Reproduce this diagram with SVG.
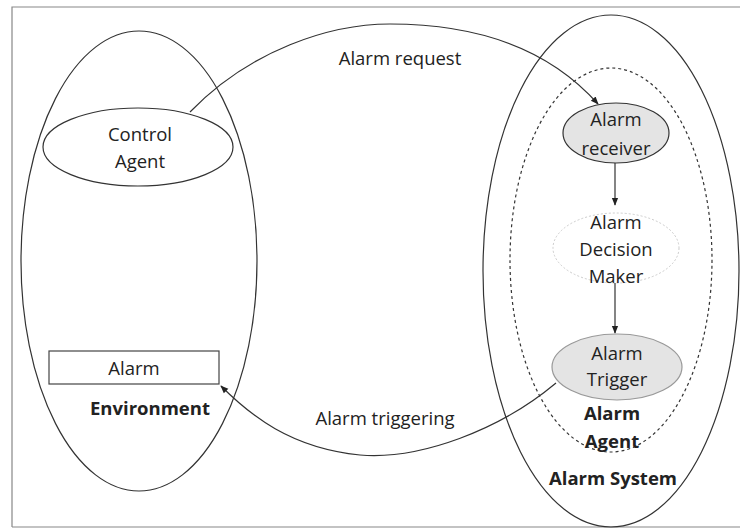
<svg xmlns="http://www.w3.org/2000/svg" width="740" height="531" viewBox="0 0 740 531">
<style>
.t{font-family:"Open Sans","Noto Sans","Liberation Sans",sans-serif;font-size:18.5px;fill:#222;text-anchor:middle;dominant-baseline:central}
.b{font-weight:bold}
.ln{fill:none;stroke:#333;stroke-width:1.2}
</style>
<defs>
<marker id="ah" viewBox="0 0 10 10" refX="9" refY="5" markerWidth="8" markerHeight="8" orient="auto-start-reverse" markerUnits="userSpaceOnUse">
<path d="M0,1 L10,5 L0,9 z" fill="#222"/>
</marker>
</defs>
<rect x="0" y="0" width="740" height="531" fill="#fff"/>
<path d="M12,527 L12,7 L745,7 M12,527 L745,527" fill="none" stroke="#888" stroke-width="1.2"/>
<g id="environment">
<ellipse cx="139" cy="261" rx="118" ry="230" class="ln"/>
<text class="t b" x="150" y="407">Environment</text>
</g>
<g id="control-agent">
<ellipse cx="138" cy="147" rx="95" ry="39" class="ln"/>
<text class="t" x="140" y="133">Control</text>
<text class="t" x="140" y="160">Agent</text>
</g>
<g id="alarm">
<rect x="49" y="351" width="170" height="33" fill="#fff" stroke="#444" stroke-width="1.2"/>
<text class="t" x="134" y="367">Alarm</text>
</g>
<g id="alarm-system">
<ellipse cx="611" cy="271" rx="128" ry="256" class="ln"/>
<text class="t b" x="613" y="477">Alarm System</text>
</g>
<g id="alarm-agent">
<ellipse cx="611" cy="260" rx="101" ry="192" fill="none" stroke="#333" stroke-width="1.2" stroke-dasharray="3,3"/>
<text class="t b" x="612" y="412">Alarm</text>
<text class="t b" x="612" y="440">Agent</text>
</g>
<g id="alarm-receiver">
<ellipse cx="616" cy="133" rx="53" ry="30" fill="#e4e4e4" stroke="#333" stroke-width="1.2"/>
<text class="t" x="616" y="118">Alarm</text>
<text class="t" x="616" y="147">receiver</text>
</g>
<g id="alarm-decision-maker">
<ellipse cx="616" cy="248" rx="63" ry="35" fill="#fff" stroke="#ccc" stroke-width="1" stroke-dasharray="2,2"/>
<text class="t" x="616" y="221">Alarm</text>
<text class="t" x="616" y="248">Decision</text>
<text class="t" x="616" y="275">Maker</text>
</g>
<g id="alarm-trigger">
<ellipse cx="617" cy="367" rx="65" ry="33" fill="#e4e4e4" stroke="#999" stroke-width="1.2"/>
<text class="t" x="617" y="352">Alarm</text>
<text class="t" x="617" y="378">Trigger</text>
</g>
<g id="connectors">
<path class="ln" d="M190,112 C250,50 330,24 390,24 C480,24 550,50 598,104" marker-end="url(#ah)"/>
<text class="t" x="400" y="57">Alarm request</text>
<path class="ln" d="M556,383 C500,430 420,460 360,455 C290,448 250,415 221,386" marker-end="url(#ah)"/>
<text class="t" x="385" y="417">Alarm triggering</text>
<line class="ln" x1="615" y1="163" x2="615" y2="205" marker-end="url(#ah)"/>
<line class="ln" x1="615" y1="283" x2="615" y2="333" marker-end="url(#ah)"/>
</g>
</svg>
